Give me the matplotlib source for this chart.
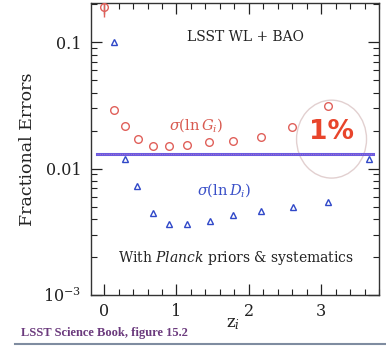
import matplotlib
matplotlib.use("Agg")
import matplotlib.pyplot as plt
from matplotlib.patches import Ellipse
from matplotlib.lines import Line2D
from matplotlib.ticker import MultipleLocator, LogLocator, NullFormatter

plt.rcParams['font.family'] = ['DejaVu Serif']
plt.rcParams['mathtext.fontset'] = 'dejavuserif'

# sigma(ln G_i) -- red circles
z_G = [0.0, 0.14, 0.29, 0.47, 0.67, 0.90, 1.15, 1.45, 1.78, 2.17, 2.60, 3.10]
sig_G = [0.19, 0.029, 0.0216, 0.0173, 0.015, 0.015, 0.0155, 0.0162, 0.0166, 0.0179, 0.0213, 0.0316]
err_G0 = 0.03

# sigma(ln D_i) -- blue triangles
z_D = [0.14, 0.29, 0.46, 0.67, 0.90, 1.15, 1.46, 1.78, 2.17, 2.61, 3.10, 3.66]
sig_D = [0.1, 0.0119, 0.00733, 0.00445, 0.00364, 0.00364, 0.00386, 0.00426, 0.00461, 0.00497, 0.00545, 0.0119]

# 1% reference level
ref_z = [-0.10, 3.71]
ref_level = 0.013

yticks = [1e-3, 1e-2, 1e-1]
ytick_labels = ['$10^{-3}$', '0.01', '0.1']
xticks = [0, 1, 2, 3]

fig = plt.figure(figsize=(3.86, 3.47), dpi=100)
ax = fig.add_axes([0.236, 0.150, 0.746, 0.841])

ax.plot(ref_z, [ref_level, ref_level], color='#6a5ae0', lw=2.2, zorder=2)
ax.plot(ref_z, [ref_level, ref_level], color='#a070d0', lw=0.8, ls=(0, (1, 1)), zorder=2)

ax.plot(z_G[1:], sig_G[1:], 'o', ms=5.5, mfc='none', mec='#e0605a', mew=1.0, zorder=3)
ax.errorbar(z_G[:1], sig_G[:1], yerr=err_G0, fmt='o', ms=5.5, mfc='none', mec='#e0605a',
            ecolor='#e0605a', mew=1.0, elinewidth=1.0, zorder=3)
ax.plot(z_D, sig_D, '^', ms=4.8, mfc='none', mec='#3048c8', mew=1.0, zorder=3)

ax.set_yscale('log')
ax.set_xlim(-0.18, 3.8)
ax.set_ylim(1e-3, 0.205)
ax.set_xticks(xticks)
ax.set_xticklabels([str(t) for t in xticks])
ax.xaxis.set_minor_locator(MultipleLocator(0.2))
ax.set_yticks(yticks)
ax.set_yticklabels(ytick_labels)
ax.yaxis.set_minor_locator(LogLocator(base=10, subs=range(2, 10)))
ax.yaxis.set_minor_formatter(NullFormatter())
ax.tick_params(which='both', direction='in', top=True, right=True, labelsize=11.5, colors='#222222')
ax.tick_params(which='major', length=8, width=0.9)
ax.tick_params(which='minor', length=4.5, width=0.8)
ax.tick_params(axis='x', pad=6)
ax.tick_params(axis='y', pad=7)
for s in ax.spines.values():
    s.set_color('#333333')
    s.set_linewidth(1.0)

ax.text(0.535, 0.884, 'LSST WL + BAO', transform=ax.transAxes, ha='center', va='center',
        fontsize=10, color='#222222')
ax.text(0.365, 0.582, r'$\sigma(\ln G_i)$', transform=ax.transAxes, ha='center', va='center',
        fontsize=10.5, color='#d85a50')
ax.text(0.462, 0.360, r'$\sigma(\ln D_i)$', transform=ax.transAxes, ha='center', va='center',
        fontsize=10.5, color='#3a50c8')
ax.text(0.503, 0.127, r'With $Planck$ priors & systematics', transform=ax.transAxes,
        ha='center', va='center', fontsize=10, color='#222222')

ax.add_patch(Ellipse((0.835, 0.534), 0.243, 0.267, transform=ax.transAxes, fill=False,
                     ec='#e2d0d0', lw=1.0, zorder=1))
ax.text(0.835, 0.559, '1%', transform=ax.transAxes, ha='center', va='center',
        fontsize=19, fontweight='bold', color='#e8452c', family='DejaVu Sans', zorder=4)

fig.text(0.07, 0.571, 'Fractional Errors', rotation=90, ha='center', va='center',
         fontsize=12.5, color='#222222')
fig.text(0.604, 0.069, r'z$_i$', ha='center', va='center', fontsize=12, color='#222222')
fig.text(0.054, 0.040, 'LSST Science Book, figure 15.2', ha='left', va='center',
         fontsize=9, color='#6b3a7d', family='Liberation Serif', fontweight='bold')
fig.add_artist(Line2D([0.039, 1.0], [0.009, 0.009], transform=fig.transFigure,
                      color='#7f8ca0', lw=1.5))

fig.savefig('out.png', dpi=100)
